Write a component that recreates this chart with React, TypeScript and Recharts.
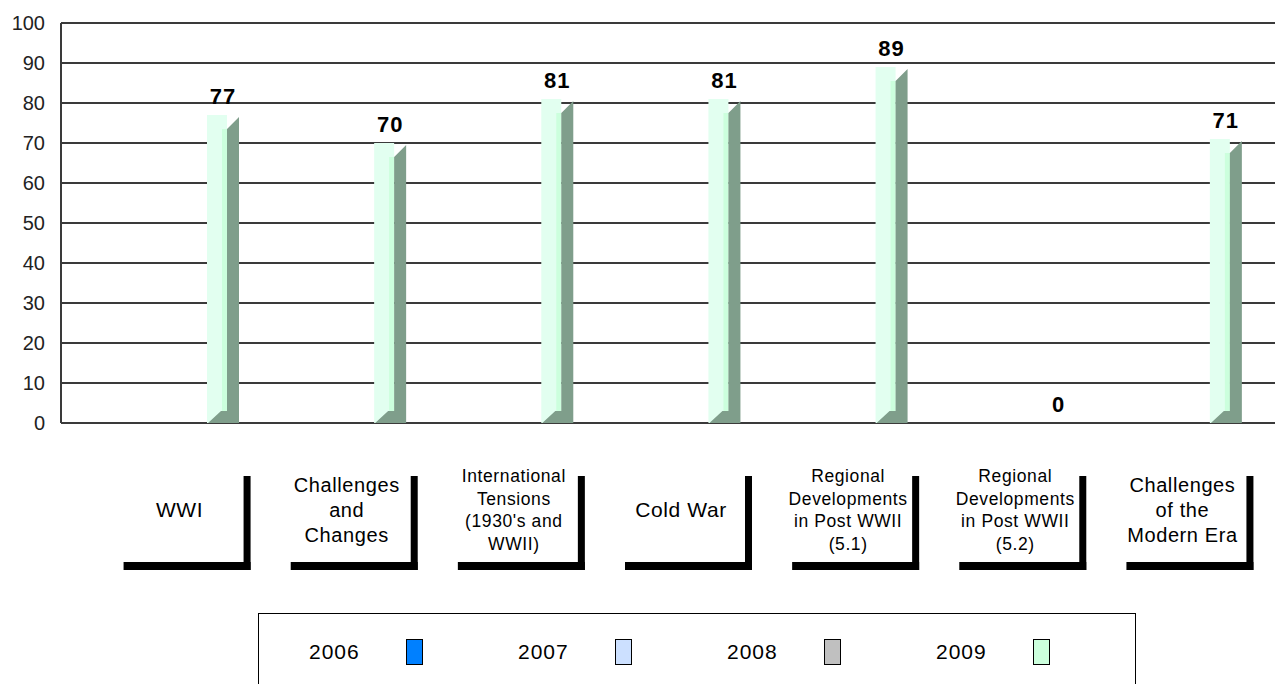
import { BarChart, Bar, XAxis, YAxis, CartesianGrid, LabelList } from "recharts";

const categories = [
  "WWI",
  "Challenges and Changes",
  "International Tensions (1930's and WWII)",
  "Cold War",
  "Regional Developments in Post WWII (5.1)",
  "Regional Developments in Post WWII (5.2)",
  "Challenges of the Modern Era",
];

const categoryLines = [
  ["WWI"],
  ["Challenges", "and", "Changes"],
  ["International", "Tensions", "(1930's and", "WWII)"],
  ["Cold War"],
  ["Regional", "Developments", "in Post WWII", "(5.1)"],
  ["Regional", "Developments", "in Post WWII", "(5.2)"],
  ["Challenges", "of the", "Modern Era"],
];

const years = ["2006", "2007", "2008", "2009"];
const yearColors = ["#0080ff", "#cce0ff", "#c0c0c0", "#ccffdd"];

const s2006 = [null, null, null, null, null, null, null];
const s2007 = [null, null, null, null, null, null, null];
const s2008 = [null, null, null, null, null, null, null];
const s2009 = [77, 70, 81, 81, 89, 0, 71];

const yTicks = [0, 10, 20, 30, 40, 50, 60, 70, 80, 90, 100];

const data = categories.map((name, i) => ({
  name,
  y2006: s2006[i],
  y2007: s2007[i],
  y2008: s2008[i],
  y2009: s2009[i],
}));

const FONT = "'Liberation Sans', Arial, sans-serif";

// fake 3d column like the old excel look
function Column3D(props: any) {
  const { x, y, width, height } = props;
  if (!height || height <= 0) return null;
  const bottom = y + height;
  const side = 12;
  return (
    <g>
      <rect x={x} y={y} width={width} height={height} fill="#e2fff0" />
      <rect x={x + width - 5} y={y + 14} width={5} height={height - 26} fill="#ccffdd" />
      <polygon
        points={`${x + width},${y + 14} ${x + width + side},${y + 2} ${x + width + side},${bottom} ${x + 1},${bottom} ${x + 14},${bottom - 12} ${x + width},${bottom - 12}`}
        fill="#7f9e8b"
      />
    </g>
  );
}

function ValueLabel(props: any) {
  const { x, y, width, value } = props;
  if (value === null || value === undefined) return null;
  return (
    <text
      x={x + (width + 12) / 2}
      y={y - 11}
      textAnchor="middle"
      fontFamily={FONT}
      fontWeight="bold"
      fontSize={22}
      letterSpacing={1}
      fill="#000"
    >
      {value}
    </text>
  );
}

function CategoryTick(props: any) {
  const { x, index } = props;
  const lines = categoryLines[index] || [];
  const fs = lines.length >= 4 ? 17.5 : lines.length === 3 ? 20 : 21;
  const lh = lines.length >= 4 ? 22.5 : 25;
  const left = x - 21;
  const right = x + 106;
  const top = 476;
  const bot = 570;
  const midY = 510;
  const firstY = midY - ((lines.length - 1) * lh) / 2;
  return (
    <g>
      <rect x={right - 7} y={top} width={7} height={bot - top} fill="#000" />
      <rect x={left} y={bot - 8} width={right - left} height={8} fill="#000" />
      {lines.map((ln, k) => (
        <text
          key={k}
          x={x + 35}
          y={firstY + k * lh}
          dy="0.35em"
          textAnchor="middle"
          fontFamily={FONT}
          fontSize={fs}
          letterSpacing={0.6}
          fill="#000"
        >
          {ln}
        </text>
      ))}
    </g>
  );
}

export default function App() {
  return (
    <div style={{ position: "absolute", left: 0, top: 0, width: 1285, height: 684, overflow: "hidden", background: "#fff" }}>
      <BarChart
        width={1285}
        height={684}
        data={data}
        margin={{ top: 23, right: 10, bottom: 0, left: 0 }}
        barSize={20}
        barGap={28}
      >
        <CartesianGrid vertical={false} stroke="#3a3a3a" strokeWidth={2} />
        <XAxis
          dataKey="name"
          height={261}
          axisLine={false}
          tickLine={false}
          interval={0}
          padding={{ left: 0, right: 44 }}
          tick={<CategoryTick />}
        />
        <YAxis
          width={61}
          domain={[0, 100]}
          ticks={yTicks}
          interval={0}
          axisLine={{ stroke: "#3a3a3a", strokeWidth: 2 }}
          tickLine={false}
          tickSize={0}
          tickMargin={16}
          tick={{ fill: "#222", fontSize: 20, fontFamily: FONT }}
        />
        <Bar dataKey="y2006" fill={yearColors[0]} shape={<Column3D />} isAnimationActive={false} />
        <Bar dataKey="y2007" fill={yearColors[1]} shape={<Column3D />} isAnimationActive={false} />
        <Bar dataKey="y2008" fill={yearColors[2]} shape={<Column3D />} isAnimationActive={false} />
        <Bar dataKey="y2009" fill={yearColors[3]} shape={<Column3D />} isAnimationActive={false}>
          <LabelList dataKey="y2009" content={<ValueLabel />} />
        </Bar>
      </BarChart>
      <div
        style={{
          position: "absolute",
          left: 258,
          top: 613,
          width: 878,
          height: 100,
          border: "1px solid #000",
          boxSizing: "border-box",
          fontFamily: FONT,
        }}
      >
        {years.map((yr, i) => (
          <div
            key={yr}
            style={{ position: "absolute", left: 50 + i * 209, top: 24, display: "flex", alignItems: "center", height: 27 }}
          >
            <span style={{ fontSize: 21, letterSpacing: 1, width: 52 }}>{yr}</span>
            <span
              style={{
                display: "inline-block",
                marginLeft: 45,
                width: 17,
                height: 26,
                background: yearColors[i],
                border: "1px solid #000",
                boxSizing: "border-box",
              }}
            />
          </div>
        ))}
      </div>
    </div>
  );
}
